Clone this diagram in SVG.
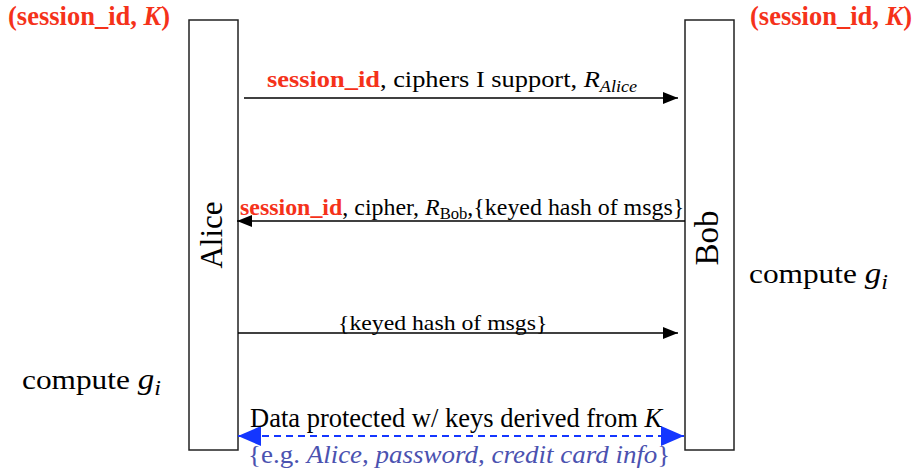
<svg xmlns="http://www.w3.org/2000/svg" width="918" height="476" viewBox="0 0 918 476">
  <defs>
    <style>
      text { font-family: "Liberation Serif", "Times New Roman", serif; fill: #000; }
      .red { fill: #f5321a; font-weight: bold; }
      .it { font-style: italic; }
      .blue { fill: #4b52b0; }
      .box { fill: #fff; stroke: #222; stroke-width: 1.5; }
      .msg { stroke: #000; stroke-width: 1.3; fill: none; }
      .data { stroke: #1436ff; stroke-width: 2; stroke-dasharray: 7 5; fill: none; }
    </style>
    <marker id="ah" viewBox="0 0 15 12" refX="15" refY="6" markerWidth="15" markerHeight="12" markerUnits="userSpaceOnUse" orient="auto">
      <path d="M0,0 L15,6 L0,12 Z" fill="#000"/>
    </marker>
    <marker id="bh" viewBox="0 0 23 20" refX="23" refY="10" markerWidth="23" markerHeight="20" markerUnits="userSpaceOnUse" orient="auto-start-reverse">
      <path d="M0,0 L23,10 L0,20 Z" fill="#1436ff"/>
    </marker>
  </defs>

  <!-- participants -->
  <g id="alice">
    <rect class="box" x="189" y="20" width="49" height="430"/>
    <text transform="translate(222,235) rotate(-90)" text-anchor="middle" font-size="31">Alice</text>
  </g>
  <g id="bob">
    <rect class="box" x="685" y="20" width="49" height="430"/>
    <text transform="translate(718,238) rotate(-90)" text-anchor="middle" font-size="33">Bob</text>
  </g>

  <!-- shared state held by each side -->
  <g id="alice-state">
    <text class="red" x="8" y="25" font-size="26.5">(session_id, <tspan class="it">K</tspan>)</text>
  </g>
  <g id="bob-state">
    <text class="red" x="750" y="25" font-size="26.5">(session_id, <tspan class="it">K</tspan>)</text>
  </g>

  <g id="bob-compute">
    <text transform="translate(749,283) scale(1.14,1)" font-size="27.5">compute <tspan class="it" font-size="29">g</tspan><tspan class="it" font-size="21" dy="6">i</tspan></text>
  </g>
  <g id="alice-compute">
    <text transform="translate(22,389) scale(1.14,1)" font-size="27.5">compute <tspan class="it" font-size="29">g</tspan><tspan class="it" font-size="21" dy="6">i</tspan></text>
  </g>

  <!-- messages -->
  <g id="connectors">
    <line class="msg" x1="244" y1="98" x2="678" y2="98" marker-end="url(#ah)"/>
    <line class="msg" x1="685" y1="221" x2="237" y2="221" marker-end="url(#ah)"/>
    <line class="msg" x1="238" y1="333" x2="678" y2="333" marker-end="url(#ah)"/>
    <line class="data" x1="238" y1="436" x2="684" y2="436" marker-start="url(#bh)" marker-end="url(#bh)"/>
  </g>

  <g id="labels">
    <text transform="translate(267,87) scale(1.1,1)" font-size="24"><tspan class="red">session_id</tspan>, ciphers I support, <tspan class="it">R</tspan><tspan class="it" font-size="16.5" dy="5">Alice</tspan></text>
    <text transform="translate(240,215) scale(1.04,1)" font-size="23"><tspan class="red">session_id</tspan>, cipher, <tspan class="it">R</tspan><tspan font-size="16" dy="4">Bob</tspan><tspan dy="-4">,{keyed hash of msgs}</tspan></text>
    <text transform="translate(338,330) scale(1.08,1)" font-size="22">{keyed hash of msgs}</text>
    <text x="250" y="427" font-size="26.5">Data protected w/ keys derived from <tspan class="it">K</tspan></text>
    <text class="blue" transform="translate(248,463) scale(1.08,1)" font-size="25">{e.g. <tspan class="it">Alice, password, credit card info</tspan>}</text>
  </g>
</svg>
